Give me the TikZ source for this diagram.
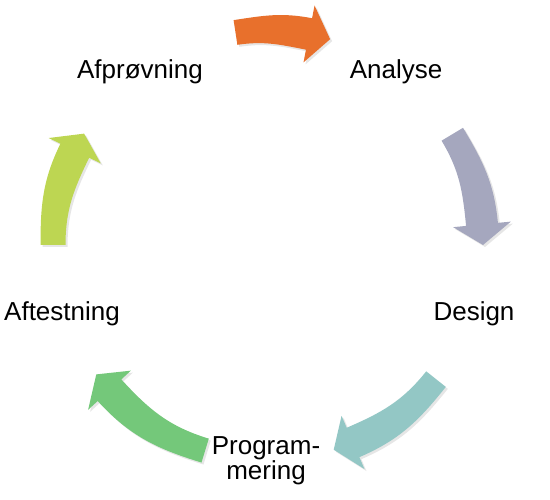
\documentclass[tikz,border=0pt]{standalone}
\usepackage{fontspec}
\setmainfont{Liberation Sans}
\usetikzlibrary{shadows}

\definecolor{cycorange}{RGB}{232,112,44}
\definecolor{cyclilac}{RGB}{165,167,190}
\definecolor{cycteal}{RGB}{147,199,197}
\definecolor{cycgreen}{RGB}{116,200,122}
\definecolor{cyclime}{RGB}{189,214,82}

\tikzset{
  steplabel/.style={anchor=base, align=center, inner sep=0pt,
    font=\fontsize{26}{25}\selectfont},
  cycarrow/.style={fill=#1, drop shadow={shadow xshift=2pt, shadow yshift=-2pt, opacity=0.2}}
}

\begin{document}
\begin{tikzpicture}[x=1pt,y=1pt]
\useasboundingbox (0,0) rectangle (550,500);
\coordinate (c0) at (268,255);

% tail / head base / tip angles on the circle
\begin{scope}[shift={(c0)}]
\foreach \t/\b/\p/\c in {98.7/79/73.2/cycorange, 31/5.5/0/cyclilac,
  -38.6/-66.7/-72.2/cycteal, -107/-137.5/-143/cycgreen, 180/154/148.8/cyclime} {
\fill[cycarrow=\c] (\t:227.5) to[out=\t-90, in=\b+90] (\b:231) -- (\b:244)
  -- (\p:215) -- (\b:186) -- (\b:199) to[out=\b+90, in=\t-90] (\t:202.5) -- cycle;
}
\end{scope}

\node (analyse) at (396,421) [steplabel] {Analyse};
\node (design) at (474,179) [steplabel] {Design};
\node (programmering) at (266,20) [steplabel] {Program-\\mering};
\node (aftestning) at (62,179) [steplabel] {Aftestning};
\node (afproevning) at (140,421) [steplabel] {Afprøvning};
\end{tikzpicture}
\end{document}
